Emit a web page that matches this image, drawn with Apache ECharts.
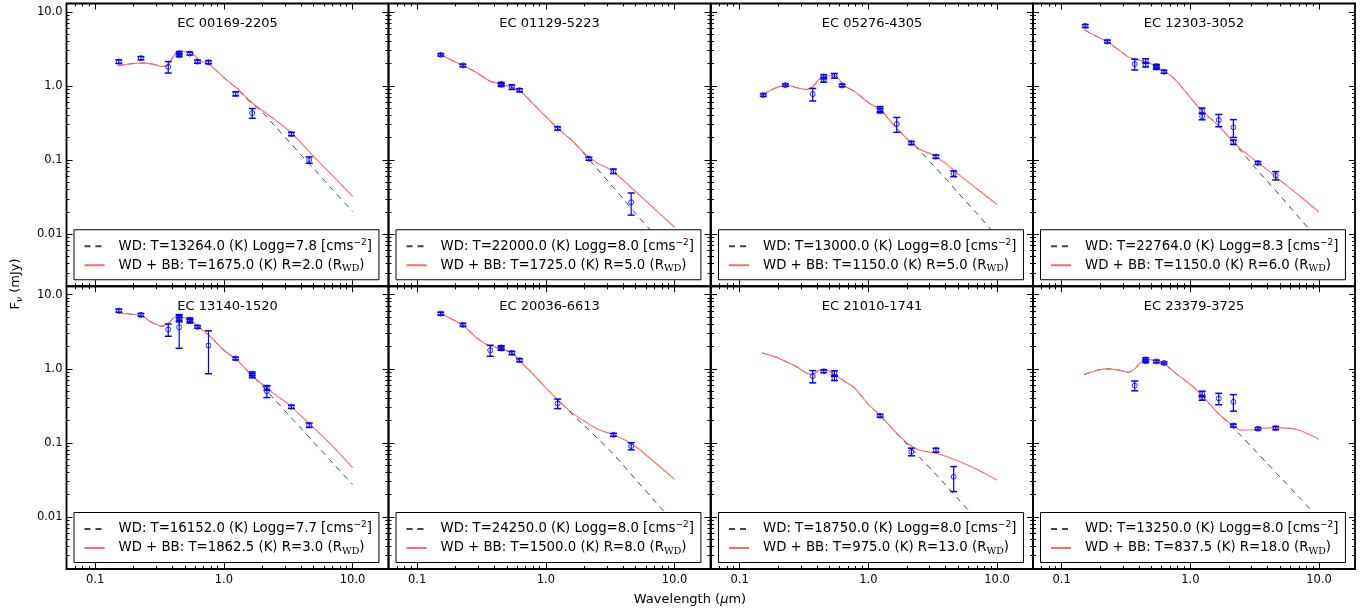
<!DOCTYPE html>
<html>
<head>
<meta charset="utf-8">
<title>WD + blackbody SED fits</title>
<script src="https://cdn.jsdelivr.net/npm/echarts@6/dist/echarts.min.js"></script>
<style>
  html, body { margin: 0; padding: 0; background: #fff; }
  #chart { width: 1371px; height: 614px; }
</style>
</head>
<body>
<div id="chart"></div>
<script>
// ---------------------------------------------------------------
// Data
// ---------------------------------------------------------------
const starNames = ['EC 00169-2205', 'EC 01129-5223', 'EC 05276-4305', 'EC 12303-3052',
                   'EC 13140-1520', 'EC 20036-6613', 'EC 21010-1741', 'EC 23379-3725'];

// best-fit parameters (white dwarf model, plus blackbody companion)
const wdTemp   = ['13264.0', '22000.0', '13000.0', '22764.0', '16152.0', '24250.0', '18750.0', '13250.0'];
const wdLogg   = ['7.8', '8.0', '8.0', '8.3', '7.7', '8.0', '8.0', '8.0'];
const bbTemp   = ['1675.0', '1725.0', '1150.0', '1150.0', '1862.5', '1500.0', '975.0', '837.5'];
const bbRadius = ['2.0', '5.0', '5.0', '6.0', '3.0', '8.0', '13.0', '18.0'];

// wavelength grid (micron) of the tabulated model curves
const modelWavelength = [0.15, 0.19, 0.23, 0.28, 0.33, 0.37, 0.42, 0.47, 0.55, 0.65, 0.78,
                         1.0, 1.25, 1.6, 2.0, 2.5, 3.2, 4.0, 5.0, 7.0, 10.0];

// white dwarf model flux (mJy), one row per star
const fluxWD = [
  [1.88, 2.0, 2.05, 1.98, 1.84, 1.93, 2.75, 2.95, 2.9, 2.2, 1.93, 1.3, 0.94, 0.61, 0.44, 0.287, 0.18, 0.117, 0.0767, 0.040, 0.0203],
  [2.69, 2.19, 1.88, 1.57, 1.31, 1.16, 1.09, 1.04, 0.96, 0.82, 0.6, 0.387, 0.265, 0.184, 0.12, 0.077, 0.047, 0.030, 0.019, 0.0098, 0.0048],
  [0.76, 0.94, 1.03, 0.95, 0.9, 0.98, 1.26, 1.37, 1.38, 1.01, 0.85, 0.6, 0.47, 0.29, 0.195, 0.135, 0.085, 0.056, 0.036, 0.019, 0.0093],
  [5.73, 4.61, 3.9, 3.05, 2.48, 2.31, 2.19, 2.08, 1.82, 1.53, 1.18, 0.70, 0.45, 0.31, 0.204, 0.13, 0.079, 0.051, 0.033, 0.0168, 0.0083],
  [5.68, 5.45, 5.15, 4.17, 3.76, 4.08, 4.97, 4.97, 4.53, 3.57, 2.75, 1.78, 1.34, 0.865, 0.58, 0.38, 0.238, 0.156, 0.102, 0.054, 0.0275],
  [5.68, 4.6, 3.83, 2.75, 2.24, 2.02, 1.94, 1.82, 1.61, 1.2, 0.88, 0.555, 0.378, 0.245, 0.17, 0.117, 0.077, 0.05, 0.032, 0.0165, 0.0082],
  [1.64, 1.45, 1.25, 1.06, 0.88, 0.84, 0.96, 0.96, 0.84, 0.68, 0.555, 0.331, 0.231, 0.145, 0.096, 0.064, 0.041, 0.027, 0.0175, 0.0093, 0.0049],
  [0.84, 0.96, 1.0, 0.96, 0.9, 1.0, 1.27, 1.34, 1.27, 1.11, 0.856, 0.615, 0.428, 0.264, 0.183, 0.123, 0.078, 0.052, 0.0344, 0.0185, 0.0096]
];

// white dwarf + blackbody model flux (mJy), one row per star
const fluxWDBB = [
  [1.88, 2.0, 2.05, 1.98, 1.84, 1.93, 2.75, 2.95, 2.9, 2.2, 1.93, 1.3, 0.95, 0.63, 0.465, 0.35, 0.25, 0.17, 0.112, 0.062, 0.0327],
  [2.69, 2.19, 1.88, 1.57, 1.31, 1.16, 1.09, 1.04, 0.96, 0.82, 0.6, 0.387, 0.265, 0.184, 0.125, 0.092, 0.074, 0.0535, 0.0376, 0.022, 0.0125],
  [0.76, 0.94, 1.03, 0.95, 0.9, 0.98, 1.26, 1.37, 1.38, 1.01, 0.85, 0.6, 0.47, 0.29, 0.195, 0.142, 0.117, 0.09, 0.065, 0.041, 0.0253],
  [5.73, 4.61, 3.9, 3.05, 2.48, 2.31, 2.19, 2.08, 1.82, 1.53, 1.18, 0.70, 0.45, 0.31, 0.204, 0.139, 0.099, 0.073, 0.0534, 0.0335, 0.020],
  [5.68, 5.45, 5.15, 4.17, 3.76, 4.08, 4.97, 4.97, 4.53, 3.57, 2.75, 1.78, 1.34, 0.865, 0.615, 0.45, 0.33, 0.23, 0.16, 0.091, 0.0464],
  [5.68, 4.6, 3.83, 2.75, 2.24, 2.02, 1.94, 1.82, 1.61, 1.2, 0.88, 0.555, 0.378, 0.255, 0.197, 0.155, 0.133, 0.112, 0.089, 0.055, 0.0323],
  [1.64, 1.45, 1.25, 1.06, 0.88, 0.84, 0.96, 0.96, 0.84, 0.68, 0.555, 0.331, 0.231, 0.145, 0.10, 0.08, 0.074, 0.0665, 0.057, 0.044, 0.0316],
  [0.84, 0.96, 1.0, 0.96, 0.9, 1.0, 1.27, 1.34, 1.27, 1.11, 0.856, 0.615, 0.428, 0.264, 0.188, 0.149, 0.152, 0.16, 0.16, 0.149, 0.112]
];

// photometry: [wavelength (micron), flux (mJy), 1-sigma error (mJy)]
const photEC00169 = [[0.1528, 2.14, 0.12], [0.2271, 2.38, 0.12], [0.37, 1.82, 0.32], [0.45, 2.78, 0.14], [0.45, 2.62, 0.13],
  [0.545, 2.75, 0.12], [0.625, 2.14, 0.1], [0.76, 2.1, 0.1], [1.235, 0.787, 0.05], [1.662, 0.433, 0.065], [3.35, 0.226, 0.012], [4.6, 0.101, 0.01]];
const photEC01129 = [[0.1528, 2.64, 0.1], [0.2271, 1.9, 0.08], [0.45, 1.07, 0.05], [0.45, 1.04, 0.05], [0.545, 0.97, 0.07],
  [0.625, 0.88, 0.04], [1.235, 0.269, 0.013], [2.159, 0.105, 0.005], [3.35, 0.0711, 0.005], [4.6, 0.0272, 0.009]];
const photEC05276 = [[0.1528, 0.757, 0.03], [0.2271, 1.03, 0.04], [0.37, 0.78, 0.15], [0.45, 1.34, 0.09], [0.45, 1.22, 0.09],
  [0.545, 1.38, 0.1], [0.625, 1.02, 0.04], [1.235, 0.49, 0.04], [1.235, 0.466, 0.03], [1.662, 0.308, 0.07], [2.159, 0.171, 0.008],
  [3.35, 0.112, 0.006], [4.6, 0.066, 0.006]];
const photEC12303 = [[0.1528, 6.48, 0.3], [0.2271, 3.99, 0.18], [0.37, 1.98, 0.33], [0.45, 2.19, 0.15], [0.45, 1.94, 0.13],
  [0.545, 1.86, 0.1], [0.545, 1.78, 0.1], [0.625, 1.56, 0.07], [1.235, 0.466, 0.04], [1.235, 0.391, 0.04], [1.662, 0.349, 0.066],
  [2.159, 0.278, 0.075], [2.159, 0.175, 0.012], [3.35, 0.092, 0.004], [4.6, 0.0622, 0.008]];
const photEC13140 = [[0.1528, 6.1, 0.3], [0.2271, 5.34, 0.25], [0.37, 3.39, 0.64], [0.45, 4.86, 0.35], [0.45, 4.6, 0.3],
  [0.45, 3.64, 1.75], [0.545, 4.6, 0.25], [0.545, 4.4, 0.25], [0.625, 3.68, 0.15], [0.76, 2.06, 1.2], [1.235, 1.38, 0.06],
  [1.662, 0.857, 0.05], [1.662, 0.81, 0.05], [2.159, 0.555, 0.04], [2.159, 0.5, 0.09], [3.35, 0.308, 0.015], [4.6, 0.174, 0.012]];
const photEC20036 = [[0.1528, 5.56, 0.25], [0.2271, 3.92, 0.18], [0.37, 1.78, 0.3], [0.45, 1.95, 0.1], [0.45, 1.88, 0.1],
  [0.545, 1.64, 0.08], [0.625, 1.31, 0.06], [1.235, 0.341, 0.05], [3.35, 0.129, 0.006], [4.6, 0.0908, 0.01]];
const photEC21010 = [[0.37, 0.797, 0.15], [0.45, 0.93, 0.04], [0.545, 0.88, 0.06], [0.545, 0.745, 0.05], [1.235, 0.233, 0.01],
  [2.159, 0.0762, 0.009], [3.35, 0.08, 0.005], [4.6, 0.0351, 0.013]];
const photEC23379 = [[0.37, 0.596, 0.09], [0.45, 1.34, 0.07], [0.45, 1.27, 0.06], [0.545, 1.26, 0.05], [0.625, 1.2, 0.04],
  [1.235, 0.46, 0.04], [1.235, 0.407, 0.03], [1.662, 0.398, 0.07], [2.159, 0.359, 0.09], [2.159, 0.172, 0.008],
  [3.35, 0.1555, 0.006], [4.6, 0.159, 0.008]];
const photometry = [photEC00169, photEC01129, photEC05276, photEC12303, photEC13140, photEC20036, photEC21010, photEC23379];

// axes
const xRange = [0.06, 19];
const yRange = [0.002, 13];
const xMajorTicks = [0.1, 1, 10];
const xTickLabels = ['0.1', '1.0', '10.0'];
const yMajorTicks = [0.01, 0.1, 1, 10];
const yTickLabels = ['0.01', '0.1', '1.0', '10.0'];

// ---------------------------------------------------------------
// Layout and style
// ---------------------------------------------------------------
const FONT = "'DejaVu Sans', sans-serif";
const colLeft = [66.5, 388.5, 711, 1033];
const rowTop = [3.5, 286.25];
const panelW = 322, panelH = 282.75;
const BLUE = '#0000ff';
const RED = '#ff6b6b';
const DASH = '#454545';
const MAJOR_LEN = 6, MINOR_LEN = 3;

// 2..9 x 10^n positions inside an axis range
function minorTicks(range) {
  const out = [];
  for (let e = -3; e <= 1; e++) {
    for (let m = 2; m <= 9; m++) {
      const v = m * Math.pow(10, e);
      if (v > range[0] * 1.0001 && v < range[1] * 0.9999) out.push(v);
    }
  }
  return out;
}
const xMinorTicks = minorTicks(xRange);
const yMinorTicks = minorTicks(yRange);

function tickFormatter(majors, labels) {
  return function (v) {
    const k = majors.findIndex(t => Math.abs(Math.log10(t) - Math.log10(v)) < 1e-6);
    return k >= 0 ? labels[k] : '';
  };
}

// log axis with inward decade ticks; the bottom/left one also carries labels and data
function logAxis(dim, i, range, majors, labels, side, showLabels) {
  return {
    type: 'log', logBase: 10, min: range[0], max: range[1], gridIndex: i,
    position: side, offset: 0,
    axisLine: { show: false },
    axisTick: { show: true, inside: true, length: MAJOR_LEN, lineStyle: { color: '#000', width: 1 } },
    splitLine: { show: false }, minorTick: { show: false }, minorSplitLine: { show: false },
    axisPointer: { show: false }, silent: true,
    axisLabel: {
      show: showLabels, customValues: majors, formatter: tickFormatter(majors, labels),
      margin: dim === 'x' ? 5 : 4, fontSize: 11.5, fontFamily: FONT, color: '#000'
    }
  };
}

const crisp = v => Math.round(v - 0.5) + 0.5;

// minor tick marks (2..9 of each decade) on two opposite panel edges;
// the position along the edge comes from the panel's log axis
function minorTickSeries(i, dim, values, edgeA, edgeB) {
  const rows = dim === 'x' ? values.map(v => [v, 1]) : values.map(v => [1, v]);
  return {
    type: 'custom', xAxisIndex: 2 * i, yAxisIndex: 2 * i, silent: true, z: 6, clip: false,
    data: rows, encode: { x: 0, y: 1 },
    renderItem: function (params, api) {
      const p = api.coord([api.value(0), api.value(1)]);
      const st = { stroke: '#000', lineWidth: 1 };
      if (dim === 'x') {
        const x = crisp(p[0]);
        return { type: 'group', children: [
          { type: 'line', shape: { x1: x, y1: edgeA, x2: x, y2: edgeA - MINOR_LEN }, style: st },
          { type: 'line', shape: { x1: x, y1: edgeB, x2: x, y2: edgeB + MINOR_LEN }, style: st }
        ] };
      }
      const y = crisp(p[1]);
      return { type: 'group', children: [
        { type: 'line', shape: { x1: edgeA, y1: y, x2: edgeA + MINOR_LEN, y2: y }, style: st },
        { type: 'line', shape: { x1: edgeB, y1: y, x2: edgeB - MINOR_LEN, y2: y }, style: st }
      ] };
    }
  };
}

function renderErrorBar(params, api) {
  const lo = api.coord([api.value(0), api.value(1)]);
  const hi = api.coord([api.value(0), api.value(2)]);
  const w = 3.5;
  const st = { stroke: BLUE, lineWidth: 1.2, fill: null };
  const cap = { stroke: BLUE, lineWidth: 1.5, fill: null };
  return {
    type: 'group', children: [
      { type: 'line', shape: { x1: hi[0], y1: hi[1], x2: lo[0], y2: lo[1] }, style: st },
      { type: 'line', shape: { x1: hi[0] - w, y1: hi[1], x2: hi[0] + w, y2: hi[1] }, style: cap },
      { type: 'line', shape: { x1: lo[0] - w, y1: lo[1], x2: lo[0] + w, y2: lo[1] }, style: cap }
    ]
  };
}

const option = {
  animation: false,
  backgroundColor: '#fff',
  textStyle: { fontFamily: FONT },
  grid: [], xAxis: [], yAxis: [], series: [], legend: [], title: [],
  graphic: [
    {
      type: 'text', x: 16, y: 284, rotation: Math.PI / 2, silent: true,
      style: {
        text: '{a|F}{s|ν}{a| (mJy)}', align: 'center', verticalAlign: 'middle',
        rich: {
          a: { fontFamily: FONT, fontSize: 13, fill: '#000', lineHeight: 17 },
          s: { fontFamily: FONT, fontSize: 9, fontStyle: 'italic', fill: '#000', lineHeight: 9, verticalAlign: 'bottom' }
        }
      }
    },
    {
      type: 'text', x: 690, y: 600, silent: true,
      style: {
        text: '{a|Wavelength (}{m|μ}{a|m)}', align: 'center', verticalAlign: 'middle',
        rich: {
          a: { fontFamily: FONT, fontSize: 13, fill: '#000' },
          m: { fontFamily: FONT, fontSize: 13, fontStyle: 'italic', fill: '#000' }
        }
      }
    }
  ]
};

const legendRich = {};

starNames.forEach((star, i) => {
  const r = Math.floor(i / 4), c = i % 4;
  const left = colLeft[c], top = rowTop[r];

  option.grid.push({
    left: left, top: top, width: panelW, height: panelH,
    show: true, borderColor: '#000', borderWidth: 1.8, backgroundColor: 'transparent',
    containLabel: false, outerBoundsMode: 'none'
  });
  // per panel: index 2i = bottom/left data axis, 2i+1 = top/right mirror axis
  option.xAxis.push(
    logAxis('x', i, xRange, xMajorTicks, xTickLabels, 'bottom', r === 1),
    logAxis('x', i, xRange, xMajorTicks, xTickLabels, 'top', false)
  );
  option.yAxis.push(
    logAxis('y', i, yRange, yMajorTicks, yTickLabels, 'left', c === 0),
    logAxis('y', i, yRange, yMajorTicks, yTickLabels, 'right', false)
  );

  option.title.push({
    text: star, left: left + panelW / 2, top: top + 20, textAlign: 'center', textVerticalAlign: 'middle',
    padding: 0, textStyle: { fontFamily: FONT, fontSize: 13, fontWeight: 'normal', color: '#000' }
  });

  const wdName = `WD: T=${wdTemp[i]} (K) Logg=${wdLogg[i]} [cms-2]`;
  const bbName = `WD + BB: T=${bbTemp[i]} (K) R=${bbRadius[i]} (RWD)`;
  legendRich[wdName] = `{g|}WD: T=${wdTemp[i]} (K) Logg=${wdLogg[i]} [cms{sup|−2}]`;
  legendRich[bbName] = `{g|}WD + BB: T=${bbTemp[i]} (K) R=${bbRadius[i]} (R{sub|WD})`;

  const ax = 2 * i;
  option.series.push({
    type: 'line', name: wdName, xAxisIndex: ax, yAxisIndex: ax,
    data: modelWavelength.map((w, k) => [w, fluxWD[i][k]]),
    symbol: 'none', smooth: 0.3, silent: true, z: 2,
    lineStyle: { color: DASH, width: 1, type: [6, 5] }, itemStyle: { color: DASH },
    emphasis: { disabled: true }
  });
  option.series.push({
    type: 'line', name: bbName, xAxisIndex: ax, yAxisIndex: ax,
    data: modelWavelength.map((w, k) => [w, fluxWDBB[i][k]]),
    symbol: 'none', smooth: 0.3, silent: true, z: 3,
    lineStyle: { color: RED, width: 1.1 }, itemStyle: { color: RED },
    emphasis: { disabled: true }
  });
  option.series.push({
    type: 'custom', name: 'err ' + star, xAxisIndex: ax, yAxisIndex: ax, silent: true, z: 4,
    data: photometry[i].map(p => [p[0], p[1] - p[2], p[1] + p[2]]),
    encode: { x: 0, y: [1, 2] }, renderItem: renderErrorBar
  });
  option.series.push({
    type: 'scatter', name: 'phot ' + star, xAxisIndex: ax, yAxisIndex: ax, silent: true, z: 5,
    data: photometry[i].map(p => [p[0], p[1]]),
    symbol: 'circle', symbolSize: 5,
    itemStyle: { color: 'rgba(0,0,0,0)', borderColor: BLUE, borderWidth: 1 },
    emphasis: { disabled: true }
  });
  option.series.push(
    minorTickSeries(i, 'x', xMinorTicks, top + panelH, top),
    minorTickSeries(i, 'y', yMinorTicks, left, left + panelW)
  );

  option.legend.push({
    show: true, orient: 'vertical', left: left + 7.5, top: top + panelH - 56.5,
    data: [wdName, bbName], selectedMode: false,
    itemWidth: 20, itemHeight: 14, itemGap: 2, padding: [8, 7, 6, 9.5],
    backgroundColor: '#fff', borderColor: '#000', borderWidth: 1, borderRadius: 0,
    itemStyle: { opacity: 0 },
    formatter: name => legendRich[name],
    textStyle: {
      fontFamily: FONT, fontSize: 13.3, color: '#000', lineHeight: 17,
      rich: {
        g: { width: 9 },
        sup: { fontFamily: FONT, fontSize: 9, lineHeight: 9, verticalAlign: 'top', color: '#000' },
        sub: { fontFamily: "'DejaVu Serif', serif", fontSize: 9.5, lineHeight: 9, verticalAlign: 'bottom', color: '#000' }
      }
    }
  });
});

const chart = echarts.init(document.getElementById('chart'), null, { renderer: 'canvas' });
chart.setOption(option);
</script>
</body>
</html>
